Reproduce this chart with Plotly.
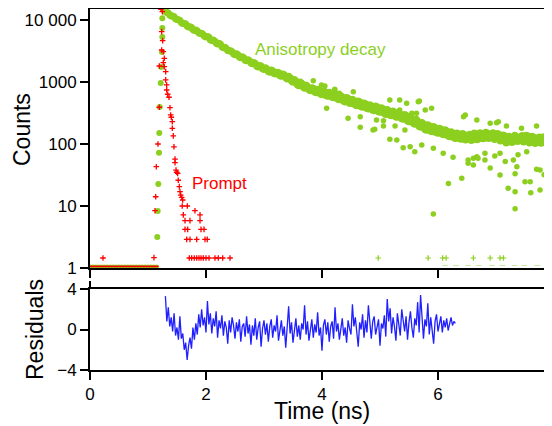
import plotly.graph_objects as go

# ---------------- data ----------------
base_t = [0.00, 0.05, 0.10, 0.15, 0.20, 0.25, 0.30, 0.35, 0.40, 0.45, 0.50, 0.55,
          0.60, 0.65, 0.70, 0.75, 0.80, 0.85, 0.90, 0.95, 1.00, 1.05, 1.10, 1.15]
base_c = [1.06] * len(base_t)

rise_t = [1.160, 1.167, 1.178, 1.190, 1.195, 1.202, 1.219, 1.229, 1.241, 1.247, 1.247, 1.247, 1.27]
rise_c = [3.16, 8.3, 22.6, 72, 150, 395, 964, 1750, 3050, 5320, 7430, 10650, 14500]

band_t = [1.30, 1.35, 1.40, 1.45, 1.50, 1.55, 1.60, 1.65, 1.70, 1.75, 1.80, 1.85, 1.90, 1.95,
          2.00, 2.05, 2.10, 2.15, 2.20, 2.25, 2.30, 2.35, 2.40, 2.45, 2.50, 2.55, 2.60, 2.65,
          2.70, 2.75, 2.80, 2.85, 2.90, 2.95, 3.00, 3.05, 3.10, 3.15, 3.20, 3.25, 3.30, 3.35,
          3.40, 3.45, 3.50, 3.55, 3.60, 3.65, 3.70, 3.75, 3.80, 3.85, 3.90, 3.95, 4.00, 4.05,
          4.10, 4.15, 4.20, 4.25, 4.30, 4.35, 4.40, 4.45, 4.50, 4.55, 4.60, 4.65, 4.70, 4.75,
          4.80, 4.85, 4.90, 4.95, 5.00, 5.05, 5.10, 5.15, 5.20, 5.25, 5.30, 5.35, 5.40, 5.45,
          5.50, 5.55, 5.60, 5.65, 5.70, 5.75, 5.80, 5.85, 5.90, 5.95, 6.00, 6.05, 6.10, 6.15,
          6.20, 6.25, 6.30, 6.35, 6.40, 6.45, 6.50, 6.55, 6.60, 6.65, 6.70, 6.75, 6.80, 6.85,
          6.90, 6.95, 7.00, 7.05, 7.10, 7.15, 7.20, 7.25, 7.30, 7.35, 7.40, 7.45, 7.50, 7.55,
          7.60, 7.65, 7.70, 7.75, 7.80, 7.85, 7.90, 7.95]
band_c = [13700, 12900, 11600, 11300, 10200, 9800, 8800, 8600, 7700, 7550, 6750, 6650, 6050, 5850,
          5300, 5250, 4650, 4600, 4080, 4050, 3580, 3480, 3150, 3060, 2760, 2750, 2460, 2470,
          2190, 2200, 1960, 1990, 1740, 1810, 1590, 1620, 1430, 1520, 1340, 1420, 1240, 1310,
          1120, 1180, 990, 1040, 870, 950, 790, 850, 720, 790, 670, 740, 620, 700,
          590, 660, 555, 615, 515, 575, 475, 545, 450, 505, 415, 480, 390, 445,
          365, 415, 345, 400, 325, 370, 300, 345, 285, 325, 270, 305, 250, 290,
          228, 262, 208, 235, 186, 210, 166, 196, 157, 185, 149, 175, 141, 162,
          131, 152, 123, 146, 119, 142, 120, 143, 118, 145, 121, 147, 124, 150,
          126, 152, 121, 143, 115, 136, 108, 128, 110, 132, 114, 137, 112, 134,
          108, 129, 107, 130, 105, 128, 106, 126]

band2_t = [1.325, 1.375, 1.425, 1.475, 1.525, 1.575, 1.625, 1.675, 1.725, 1.775, 1.825, 1.875,
           1.925, 1.975, 2.025, 2.075, 2.125, 2.175, 2.225, 2.275, 2.325, 2.375, 2.425, 2.475,
           2.525, 2.575, 2.625, 2.675, 2.725, 2.775, 2.825, 2.875, 2.925, 2.975, 3.025, 3.075,
           3.125, 3.175, 3.225, 3.275, 3.325, 3.375, 3.425, 3.475, 3.525, 3.575, 3.625, 3.675,
           3.725, 3.775, 3.825, 3.875, 3.925, 3.975, 4.025, 4.075, 4.125, 4.175, 4.225, 4.275,
           4.325, 4.375, 4.425, 4.475, 4.525, 4.575, 4.625, 4.675, 4.725, 4.775, 4.825, 4.875,
           4.925, 4.975, 5.025, 5.075, 5.125, 5.175, 5.225, 5.275, 5.325, 5.375, 5.425, 5.475,
           5.525, 5.575, 5.625, 5.675, 5.725, 5.775, 5.825, 5.875, 5.925, 5.975, 6.025, 6.075,
           6.125, 6.175, 6.225, 6.275, 6.325, 6.375, 6.425, 6.475, 6.525, 6.575, 6.625, 6.675,
           6.725, 6.775, 6.825, 6.875, 6.925, 6.975, 7.025, 7.075, 7.125, 7.175, 7.225, 7.275,
           7.325, 7.375, 7.425, 7.475, 7.525, 7.575, 7.625, 7.675, 7.725, 7.775, 7.825, 7.875,
           7.925]
band2_c = [13200, 12000, 11600, 10500, 10100, 9100, 8800, 8000, 7800, 7000, 6900, 6200,
           6100, 5450, 5400, 4800, 4750, 4250, 4200, 3700, 3640, 3230, 3200, 2850,
           2850, 2540, 2560, 2250, 2280, 2020, 2060, 1800, 1850, 1640, 1700, 1480,
           1560, 1370, 1440, 1260, 1350, 1170, 1240, 1040, 1100, 900, 1000, 830,
           890, 750, 810, 690, 760, 640, 720, 600, 680, 565, 640, 525,
           600, 490, 560, 455, 525, 425, 495, 400, 460, 375, 430, 350,
           410, 330, 385, 310, 360, 290, 340, 272, 318, 255, 300, 235,
           275, 215, 250, 192, 222, 172, 205, 160, 192, 152, 180, 143,
           170, 134, 158, 126, 150, 122, 148, 116, 140, 114, 150, 117,
           152, 121, 155, 123, 146, 118, 148, 112, 140, 104, 133, 106,
           138, 110, 131, 108, 138, 104, 133, 102, 126, 103, 131, 101,
           124]

scat_t = [3.85, 3.99, 4.22, 4.30, 4.54, 4.08, 4.45, 4.66, 4.66, 4.88, 5.06, 5.17, 5.29, 5.26,
          5.43, 5.40, 5.52, 5.17, 5.34, 5.46, 5.55, 5.66, 4.94, 5.06, 4.05, 4.22, 4.91, 5.60,
          5.92, 6.18, 6.41, 5.92, 6.52, 6.61, 6.90, 7.07, 7.21, 7.33, 7.33, 7.59, 7.76, 7.60,
          5.89, 5.34, 6.44, 6.67, 7.01, 7.18, 7.44, 7.70, 7.90, 7.36, 7.76, 7.90, 7.07, 7.53,
          6.81, 6.67, 5.68, 5.78, 5.63, 6.47, 6.90, 7.04, 5.72, 6.09, 6.26, 6.52, 6.61, 6.69,
          6.81, 6.98, 7.16, 7.30, 7.33, 7.38, 7.50, 7.70, 7.83]
scat_c = [1050, 896, 743, 657, 698, 377, 260, 276, 186, 168, 195, 119, 116, 195,
          168, 87, 90, 513, 513, 453, 313, 481, 244, 238, 861, 762, 173, 75,
          85, 23, 28, 7.4, 49, 59, 41, 31.6, 19.3, 17, 9.0, 24.7, 18.1, 16.4,
          377, 353, 276, 244, 221, 195, 179, 195, 158, 43, 38, 55, 71, 75,
          71, 62, 494, 353, 313, 294, 216, 229, 96, 71, 61, 55, 46, 59,
          55, 64, 52, 55, 33, 67, 24.7, 39, 32]

low_t = [4.97, 5.83, 6.08, 6.14, 6.61, 6.90, 7.07, 7.13]
low_c = [1.45, 1.45, 1.45, 1.45, 1.45, 1.45, 1.45, 1.45]
floor_t = [6.12, 6.31, 6.52, 6.70, 6.93, 7.11, 7.32, 7.49, 7.71, 7.90]
floor_c = [1.1, 1.1, 1.1, 1.1, 1.1, 1.1, 1.1, 1.1, 1.1, 1.1]
edge_t = [7.92, 7.92]
edge_c = [16, 5.3]

prompt_t = [0.224, 1.103, 1.121, 1.133, 1.143, 1.172, 1.195, 1.195, 1.224, 1.247, 1.236, 1.253,
            1.236, 1.264, 1.281, 1.264, 1.281, 1.305, 1.305, 1.322, 1.322, 1.340, 1.362, 1.379,
            1.391, 1.402, 1.419, 1.419, 1.436, 1.448, 1.466, 1.466, 1.483, 1.495, 1.512, 1.522,
            1.540, 1.552, 1.564, 1.581, 1.598, 1.591, 1.678, 1.609, 1.810, 1.897, 1.638, 1.724,
            1.897, 1.638, 1.684, 1.914, 1.966, 1.667, 1.724, 1.840, 1.983, 2.022,
            1.712, 1.753, 1.798, 1.840, 1.879, 1.914, 1.953, 2.000, 2.052, 2.155, 2.212, 2.288, 2.414]
prompt_c = [1.45, 1.47, 8.4, 14.1, 43, 100, 391, 1810, 14900, 13600, 6480, 4640,
            3280, 3080, 2410, 2050, 1770, 1470, 1080, 896, 743, 634, 567, 385,
            294, 270, 229, 179, 135, 90, 57, 50, 38, 35, 33.6, 26,
            20.5, 17, 15, 13.8, 12.5, 10, 10, 7.2, 8.4, 7.2, 5.8, 5.8,
            5.8, 4.2, 4.2, 4.2, 4.2, 2.9, 2.9, 2.9, 2.9, 2.9,
            1.45, 1.45, 1.45, 1.45, 1.45, 1.45, 1.45, 1.45, 1.45, 1.45, 1.45, 1.45, 1.45]

res_t = [round(1.30 + 0.025 * i, 3) for i in range(201)]
res_v = [3.3, 0.8, 2.2, 0.3, 1.2, -0.2, 1.6, -0.6, 0.2, -1.0,
         1.3, -0.9, -0.4, -2.0, -1.3, -3.0, -1.6, -0.8, -1.9, 0.2,
         -1.0, 0.6, -0.5, 1.5, 0.2, 2.0, 0.4, 1.2, -0.3, 2.8,
         0.5, 1.6, -0.4, 1.1, 0.3, 1.8, -0.8, 0.9, 0.1, 1.4,
         -0.6, 0.8, 0.2, -1.4, 0.9, -0.3, 1.2, 0.4, -0.9, 0.7,
         -0.2, 1.0, -1.2, 0.3, 0.6, -0.7, 1.3, -0.4, 0.5, -1.5,
         0.4, -0.6, 1.1, -1.0, 0.2, 0.8, -1.7, 0.1, 0.9, -0.5,
         0.6, -1.2, 0.3, 1.0, -0.8, 0.4, -0.2, 1.4, -1.1, 0.2,
         0.9, -0.6, 0.3, -1.8, 0.5, 2.3, -0.4, 0.7, -1.3, 0.1,
         1.1, -0.7, 0.4, -1.0, 0.6, 0.0, 2.4, -0.5, 0.8, -1.1,
         0.3, 1.0, -0.8, 0.5, -0.3, 1.7, -0.6, 0.2, -2.1, 0.4,
         1.0, -0.5, 0.7, -1.2, 0.3, 0.8, -0.9, 2.2, -0.2, 0.6,
         -1.0, 0.4, 1.1, -0.6, 0.2, -1.3, 0.9, 0.1, -0.5, 2.5,
         0.3, 1.2, -0.4, -1.7, 0.7, 0.0, 1.5, -0.8, 0.9, -0.3,
         2.4, 0.2, -0.9, 0.8, 1.3, -0.5, 0.4, 1.0, -1.6, 0.6,
         0.1, 1.4, -0.7, 3.0, 0.8, 2.1, -0.4, 1.2, 0.3, -1.1,
         1.6, 0.5, -0.6, 2.0, 0.9, -0.2, 1.3, -1.0, 0.7, 1.8,
         0.2, -0.8, 1.1, 0.4, 2.7, -0.3, 3.4, 0.6, -0.9, 1.0,
         0.3, 2.6, -0.5, 1.2, 0.1, -1.4, 0.8, 1.5, -0.2, 0.6,
         1.3, -0.3, 0.9, 0.2, 1.1, -0.1, 0.7, 1.2, 0.4, 0.8,
         0.6]

count_ticks = [1, 10, 100, 1000, 10000]
count_labels = ["1", "10", "100", "1000", "10 000"]
time_ticks = [0, 2, 4, 6]
time_labels = ["0", "2", "4", "6"]
res_ticks = [-4, 0, 4]
res_labels = ["\u22124", "0", "4"]

# ---------------- styling ----------------
GREEN = "#8ccf1f"
RED = "#ff0000"
BLUE = "#1f1fff"
FONT = "Arial, 'Liberation Sans', sans-serif"
# the page body has an 8 px margin, so the figure is 8 px smaller and offset
OFF = 8
W, H = 552 - OFF, 426 - OFF


def px(x):
    return (x - OFF) / W


def py(y):
    return (H - (y - OFF)) / H


fig = go.Figure()

fig.add_trace(go.Scatter(x=base_t, y=base_c, mode="markers", marker=dict(color=GREEN, size=4), xaxis="x", yaxis="y"))
fig.add_trace(go.Scatter(x=rise_t, y=rise_c, mode="markers", marker=dict(color=GREEN, size=6, line=dict(width=0)), xaxis="x", yaxis="y"))
fig.add_trace(go.Scatter(x=band_t, y=band_c, mode="markers", marker=dict(color=GREEN, size=7, line=dict(width=0)), xaxis="x", yaxis="y"))
fig.add_trace(go.Scatter(x=band2_t, y=band2_c, mode="markers", marker=dict(color=GREEN, size=7, line=dict(width=0)), xaxis="x", yaxis="y"))
fig.add_trace(go.Scatter(x=scat_t, y=scat_c, mode="markers", marker=dict(color=GREEN, size=5.5, line=dict(width=0)), xaxis="x", yaxis="y"))
fig.add_trace(go.Scatter(x=low_t, y=low_c, mode="markers",
                         marker=dict(color=GREEN, size=4, symbol="cross-thin", line=dict(color=GREEN, width=1.2)),
                         xaxis="x", yaxis="y"))
fig.add_trace(go.Scatter(x=floor_t, y=floor_c, mode="markers",
                         marker=dict(color="#c8e69a", size=4, symbol="line-ew", line=dict(color="#c8e69a", width=1)),
                         xaxis="x", yaxis="y"))
fig.add_trace(go.Scatter(x=edge_t, y=edge_c, mode="markers", marker=dict(color=GREEN, size=8, symbol="square"), xaxis="x", yaxis="y"))
fig.add_trace(go.Scatter(x=base_t, y=base_c, mode="markers",
                         marker=dict(color=RED, size=3, symbol="line-ew", line=dict(color=RED, width=1.5)),
                         xaxis="x", yaxis="y"))
fig.add_trace(go.Scatter(x=prompt_t, y=prompt_c, mode="markers",
                         marker=dict(color=RED, size=4, symbol="cross-thin", line=dict(color=RED, width=1.3)),
                         xaxis="x", yaxis="y"))

fig.add_trace(go.Scatter(x=res_t, y=res_v, mode="lines", line=dict(color=BLUE, width=1.3), xaxis="x2", yaxis="y2"))

axis_common = dict(showgrid=False, zeroline=False, showline=True, linecolor="black", linewidth=2,
                   ticks="outside", ticklen=8, tickwidth=2, tickcolor="black",
                   tickfont=dict(family=FONT, size=17, color="black"), automargin=False)

x_dom = [px(90), 1.0]
x_range = [0, 7.966]

fig.update_layout(
    width=W, height=H,
    margin=dict(l=0, r=0, t=0, b=0),
    paper_bgcolor="white", plot_bgcolor="white",
    showlegend=False,
    xaxis=dict(domain=x_dom, range=x_range, anchor="y", mirror=True,
               tickvals=time_ticks + [8], showticklabels=False, **axis_common),
    yaxis=dict(domain=[py(268), py(9)], type="log", range=[0, 4.177], anchor="x",
               tickvals=count_ticks, ticktext=count_labels, mirror=False, **axis_common),
    xaxis2=dict(domain=x_dom, range=x_range, anchor="y2", mirror=True,
                tickvals=time_ticks, ticktext=time_labels, **axis_common),
    yaxis2=dict(domain=[py(370), py(289)], range=[-4, 4], anchor="x2",
                tickvals=res_ticks, ticktext=res_labels, mirror=False, **axis_common),
)

ann_font = dict(family=FONT, size=23, color="black")
fig.add_annotation(text="Counts", x=px(22), y=py(130), xref="paper", yref="paper",
                   textangle=-90, showarrow=False, font=ann_font, xanchor="center", yanchor="middle")
fig.add_annotation(text="Residuals", x=px(35), y=py(330), xref="paper", yref="paper",
                   textangle=-90, showarrow=False, font=ann_font, xanchor="center", yanchor="middle")
fig.add_annotation(text="Time (ns)", x=px(322), y=py(411), xref="paper", yref="paper",
                   showarrow=False, font=ann_font, xanchor="center", yanchor="middle")
fig.add_annotation(text="8", x=px(547), y=py(393), xref="paper", yref="paper",
                   showarrow=False, font=dict(family=FONT, size=17, color="black"),
                   xanchor="left", yanchor="middle")
fig.add_annotation(text="Anisotropy decay", x=px(253), y=py(50), xref="paper", yref="paper",
                   showarrow=False, font=dict(family=FONT, size=17, color=GREEN),
                   xanchor="left", yanchor="middle")
fig.add_annotation(text="Prompt", x=px(190), y=py(183), xref="paper", yref="paper",
                   showarrow=False, font=dict(family=FONT, size=17, color=RED),
                   xanchor="left", yanchor="middle")

fig.add_shape(type="line", xref="paper", yref="paper",
              x0=px(90), x1=px(90), y0=py(289), y1=py(281),
              line=dict(color="black", width=2))

fig.write_html("out.html")
